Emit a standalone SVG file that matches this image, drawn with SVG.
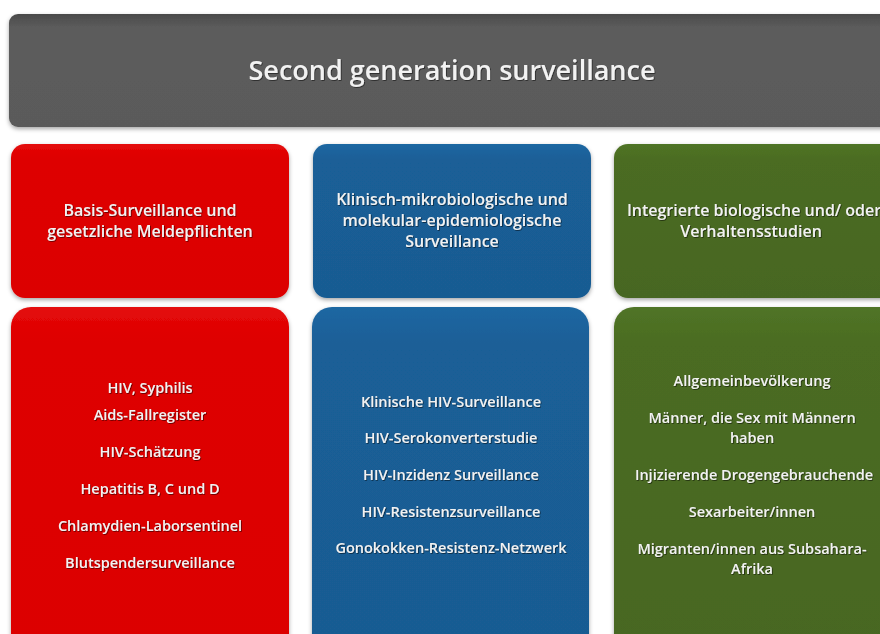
<svg xmlns="http://www.w3.org/2000/svg" width="880" height="634" viewBox="0 0 880 634">
<defs>
<linearGradient id="gGrey" x1="0" y1="0" x2="0" y2="1"><stop offset="0" stop-color="#4a4a4a"/><stop offset="0.12" stop-color="#5c5c5c"/><stop offset="1" stop-color="#5a5a5a"/></linearGradient>
<linearGradient id="gRed" x1="0" y1="0" x2="0" y2="1"><stop offset="0" stop-color="#e40a0a"/><stop offset="0.1" stop-color="#de0000"/><stop offset="1" stop-color="#dc0000"/></linearGradient>
<linearGradient id="gBlue" x1="0" y1="0" x2="0" y2="1"><stop offset="0" stop-color="#1f67a2"/><stop offset="0.1" stop-color="#1a5f97"/><stop offset="1" stop-color="#195b92"/></linearGradient>
<linearGradient id="gGreen" x1="0" y1="0" x2="0" y2="1"><stop offset="0" stop-color="#507426"/><stop offset="0.1" stop-color="#4b6c22"/><stop offset="1" stop-color="#476620"/></linearGradient>
<filter id="sh" x="-10%" y="-10%" width="120%" height="125%"><feDropShadow dx="0" dy="2" stdDeviation="2" flood-color="#000" flood-opacity="0.35"/></filter>
<filter id="ts" x="-5%" y="-30%" width="110%" height="160%"><feDropShadow dx="0.8" dy="0.8" stdDeviation="0.6" flood-color="#000" flood-opacity="0.6"/></filter>
</defs>
<style>
text{font-family:"Open Sans","Liberation Sans",sans-serif;fill:#f2f2f2;text-anchor:middle;filter:url(#ts)}
.t{font-size:27px;font-weight:600}
.h{font-size:16px;font-weight:600}
.l{font-size:14.5px;font-weight:600}
</style>
<rect width="880" height="634" fill="#ffffff"/>
<g id="title">
<rect x="9" y="14" width="890" height="113" rx="9" fill="url(#gGrey)" filter="url(#sh)"/>
<text class="t" x="452" y="80">Second generation surveillance</text>
</g>
<g id="basis">
<rect x="11" y="144" width="278" height="154" rx="14" fill="url(#gRed)" filter="url(#sh)"/>
<text class="h" x="150" y="216">Basis-Surveillance und</text>
<text class="h" x="150" y="237">gesetzliche Meldepflichten</text>
</g>
<g id="klinisch">
<rect x="313" y="144" width="278" height="154" rx="14" fill="url(#gBlue)" filter="url(#sh)"/>
<text class="h" x="452" y="205">Klinisch-mikrobiologische und</text>
<text class="h" x="452" y="226">molekular-epidemiologische</text>
<text class="h" x="452" y="247">Surveillance</text>
</g>
<g id="integriert">
<rect x="614" y="144" width="290" height="154" rx="14" fill="url(#gGreen)" filter="url(#sh)"/>
<text class="h" x="754" y="216">Integrierte biologische und/ oder</text>
<text class="h" x="751" y="237">Verhaltensstudien</text>
</g>
<g id="basis-list">
<rect x="11" y="307" width="278" height="360" rx="20" fill="url(#gRed)" filter="url(#sh)"/>
<text class="l" x="150" y="393">HIV, Syphilis</text>
<text class="l" x="150" y="420">Aids-Fallregister</text>
<text class="l" x="150" y="457">HIV-Schätzung</text>
<text class="l" x="150" y="494">Hepatitis B, C und D</text>
<text class="l" x="150" y="531">Chlamydien-Laborsentinel</text>
<text class="l" x="150" y="568">Blutspendersurveillance</text>
</g>
<g id="klinisch-list">
<rect x="312" y="307" width="277" height="360" rx="20" fill="url(#gBlue)" filter="url(#sh)"/>
<text class="l" x="451" y="407">Klinische  HIV-Surveillance</text>
<text class="l" x="451" y="443">HIV-Serokonverterstudie</text>
<text class="l" x="451" y="480">HIV-Inzidenz Surveillance</text>
<text class="l" x="451" y="517">HIV-Resistenzsurveillance</text>
<text class="l" x="451" y="553">Gonokokken-Resistenz-Netzwerk</text>
</g>
<g id="integriert-list">
<rect x="614" y="307" width="290" height="360" rx="20" fill="url(#gGreen)" filter="url(#sh)"/>
<text class="l" x="752" y="386">Allgemeinbevölkerung</text>
<text class="l" x="752" y="423">Männer, die Sex mit Männern</text>
<text class="l" x="752" y="443">haben</text>
<text class="l" x="754" y="480">Injizierende Drogengebrauchende</text>
<text class="l" x="752" y="517">Sexarbeiter/innen</text>
<text class="l" x="752" y="554">Migranten/innen aus Subsahara-</text>
<text class="l" x="752" y="574">Afrika</text>
</g>
<g id="connectors"></g>
</svg>
